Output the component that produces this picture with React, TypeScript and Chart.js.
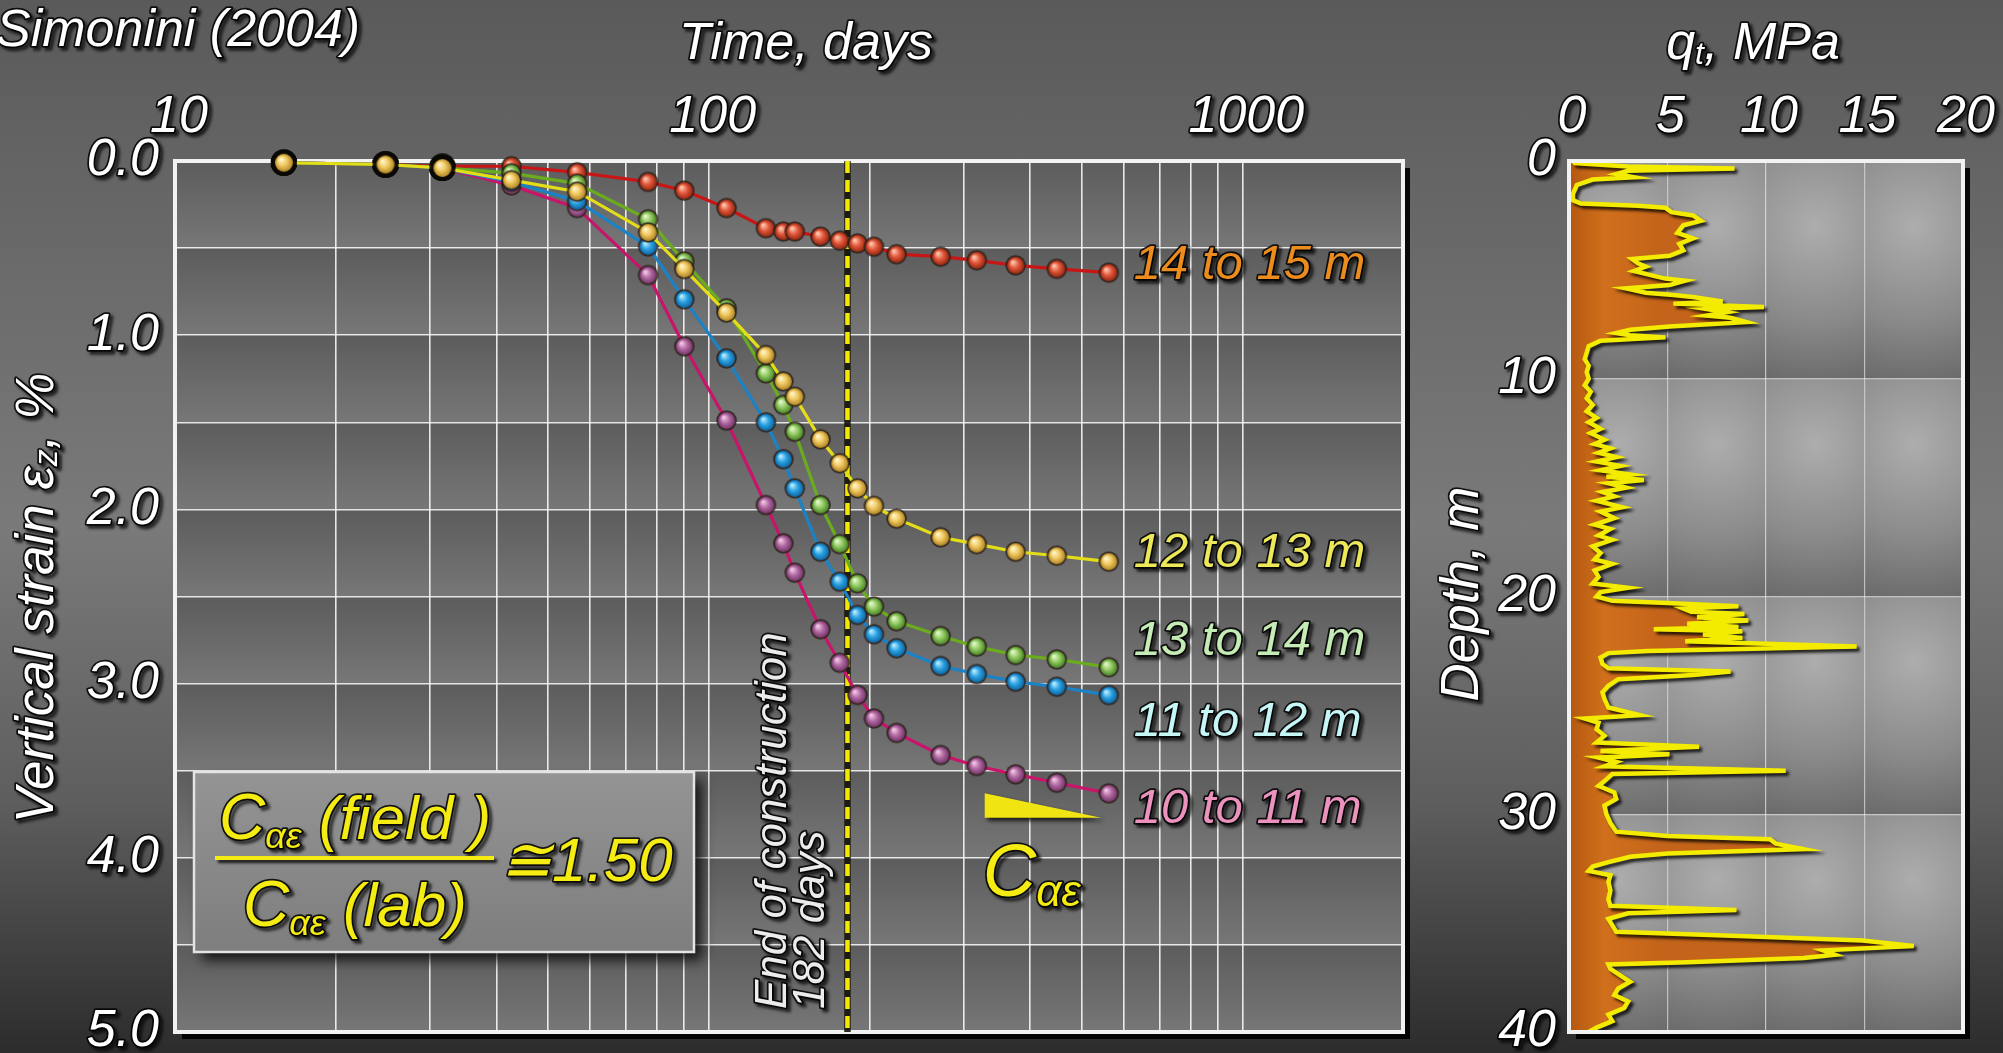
import React, { useEffect, useRef } from "react";
import { Chart, registerables } from "chart.js";
Chart.register(...registerables);

const FONT = '"Liberation Sans", Arial, Helvetica, sans-serif';

// ---------- settlement vs time (Simonini 2004) ----------
const timeDays = [16, 24.8, 31.7, 42.7, 56.7, 77, 90, 108, 128, 138, 145, 162, 176, 190, 204, 225, 272, 318, 376, 449, 562];
const strain14to15 = [0.01, 0.02, 0.03, 0.03, 0.065, 0.12, 0.17, 0.27, 0.386, 0.405, 0.405, 0.434, 0.457, 0.473, 0.492, 0.535, 0.549, 0.57, 0.599, 0.619, 0.641];
const strain12to13 = [0.01, 0.02, 0.04, 0.11, 0.176, 0.41, 0.62, 0.87, 1.114, 1.265, 1.353, 1.598, 1.735, 1.879, 1.98, 2.053, 2.16, 2.199, 2.243, 2.266, 2.3];
const strain13to14 = [0.01, 0.02, 0.04, 0.07, 0.13, 0.335, 0.576, 0.846, 1.219, 1.4, 1.554, 1.975, 2.199, 2.424, 2.558, 2.642, 2.727, 2.788, 2.836, 2.861, 2.906];
const strain11to12 = [0.01, 0.02, 0.04, 0.12, 0.23, 0.49, 0.794, 1.133, 1.5, 1.712, 1.879, 2.243, 2.415, 2.606, 2.717, 2.797, 2.899, 2.945, 2.989, 3.018, 3.066];
const strain10to11 = [0.01, 0.02, 0.04, 0.14, 0.27, 0.655, 1.064, 1.49, 1.975, 2.195, 2.363, 2.688, 2.88, 3.065, 3.2, 3.283, 3.41, 3.473, 3.521, 3.569, 3.63];
const layerLabels = ["14 to 15 m", "12 to 13 m", "13 to 14 m", "11 to 12 m", "10 to 11 m"];
const layerLabelStrain = [0.6, 2.25, 2.76, 3.22, 3.72];
const timeTickLabels = [10, 100, 1000];
const strainTickLabels = [0, 1, 2, 3, 4, 5];
const endOfConstructionDay = 182;
const slopeTimes = [329, 329, 544];
const slopeStrains = [3.63, 3.77, 3.77];

// ---------- CPT profile ----------
const cptDepth = [
  0.0, 0.1, 0.25, 0.35, 0.45, 0.6, 0.75, 0.85, 1.1, 1.5, 1.8, 1.95, 2.05, 2.15, 2.35, 2.5, 2.75, 2.95, 3.3, 3.55,
  3.8, 4.1, 4.35, 4.5, 4.7, 4.85, 5.05, 5.25, 5.4, 5.5, 5.7, 5.85, 6.05, 6.15, 6.25, 6.45, 6.55, 6.7, 6.8, 6.95,
  7.1, 7.2, 7.4, 7.6, 7.75, 7.9, 8.0, 8.1, 8.25, 8.5, 8.8, 9.1, 9.4, 9.7, 10.0, 10.3, 10.6, 10.9, 11.2, 11.5,
  11.8, 12.0, 12.3, 12.5, 12.8, 13.0, 13.2, 13.4, 13.6, 13.8, 14.0, 14.2, 14.4, 14.5, 14.65, 14.8, 15.0, 15.2, 15.4, 15.6,
  15.9, 16.1, 16.4, 16.7, 16.9, 17.2, 17.4, 17.7, 18.0, 18.3, 18.5, 18.8, 19.1, 19.4, 19.6, 19.8, 20.0, 20.2, 20.3, 20.45,
  20.55, 20.7, 20.8, 20.95, 21.1, 21.25, 21.4, 21.5, 21.6, 21.75, 21.9, 22.05, 22.3, 22.5, 22.6, 22.8, 23.1, 23.3, 23.45, 23.6,
  23.8, 24.1, 24.4, 24.7, 25.1, 25.45, 25.6, 25.8, 26.1, 26.4, 26.7, 26.9, 27.1, 27.25, 27.4, 27.6, 27.8, 28.0, 28.15, 28.4,
  28.7, 29.0, 29.3, 29.6, 30.0, 30.4, 30.8, 31.0, 31.15, 31.35, 31.6, 31.8, 31.95, 32.2, 32.4, 32.6, 32.8, 33.1, 33.5, 33.9,
  34.2, 34.4, 34.55, 34.8, 35.1, 35.4, 35.6, 35.8, 36.05, 36.25, 36.45, 36.6, 36.8, 36.9, 37.1, 37.4, 37.7, 38.0, 38.3, 38.6,
  38.9, 39.2, 39.5, 39.8, 40.0,
];
const cptQt = [
  0.2, 0.3, 3.0, 8.4, 3.0, 2.4, 3.3, 1.2, 0.4, 0.2, 0.2, 0.6, 3.5, 4.9, 5.2, 6.3, 6.7, 5.8, 5.5, 6.3,
  5.6, 5.8, 5.1, 3.2, 3.5, 3.9, 3.3, 4.2, 4.9, 5.9, 5.1, 2.9, 3.9, 5.3, 6.3, 7.8, 5.3, 9.9, 7.0, 8.0,
  7.0, 8.2, 9.0, 5.1, 3.1, 2.4, 3.1, 4.9, 1.6, 1.0, 0.9, 0.8, 1.0, 0.9, 1.0, 0.8, 1.1, 0.9, 1.2, 0.9,
  1.4, 1.0, 1.6, 1.1, 1.8, 1.3, 2.1, 1.5, 2.4, 1.4, 2.6, 1.6, 3.1, 1.9, 3.8, 2.0, 2.9, 1.7, 2.3, 1.4,
  2.7, 1.6, 2.3, 1.3, 2.1, 1.5, 2.2, 1.2, 1.6, 1.3, 2.2, 1.3, 1.5, 1.2, 3.0, 1.6, 1.4, 2.2, 5.0, 8.6,
  5.8, 6.2, 8.9, 6.5, 9.1, 6.0, 8.6, 4.3, 8.8, 6.8, 8.8, 5.9, 14.6, 4.0, 2.0, 1.6, 1.7, 2.0, 8.2, 6.3,
  2.5, 2.0, 1.7, 1.8, 2.0, 3.6, 0.8, 1.5, 1.4, 1.8, 1.4, 6.6, 1.6, 5.1, 1.5, 2.4, 1.8, 11.0, 2.2, 1.9,
  1.5, 2.3, 2.4, 1.8, 1.9, 2.1, 2.4, 5.0, 10.2, 10.5, 11.9, 5.0, 3.1, 2.0, 1.2, 1.0, 2.1, 2.0, 2.1, 2.0,
  2.1, 8.5, 3.0, 2.0, 2.2, 2.4, 9.0, 14.9, 17.5, 12.9, 13.5, 11.9, 6.0, 2.0, 2.1, 2.6, 3.1, 2.5, 2.3, 3.0,
  2.8, 2.0, 2.2, 1.4, 1.0,
];
const qtTickLabels = [0, 5, 10, 15, 20];
const depthTickLabels = [0, 10, 20, 30, 40];

// ---------- styles ----------
const YELLOW = "#f4ec12";
const SERIES = [
  { data: strain14to15, line: "#c81616", base: "#e2583c", light: "#ffc8b0", dark: "#962812", text: "#ec8c1e", order: 4 },
  { data: strain12to13, line: "#e4de18", base: "#f0c860", light: "#fff6cc", dark: "#b08626", text: "#ece85a", order: 0 },
  { data: strain13to14, line: "#6aac1e", base: "#92ca62", light: "#e6f8cc", dark: "#4a8628", text: "#c6ecb6", order: 1 },
  { data: strain11to12, line: "#1c82c6", base: "#2ca2e2", light: "#bcecff", dark: "#0e66a4", text: "#c6f6f6", order: 2 },
  { data: strain10to11, line: "#c8146a", base: "#b26aa2", light: "#f2c8e6", dark: "#74366a", text: "#ec92be", order: 3 },
];

function sphere(base: string, light: string, dark: string, r: number, ring: boolean) {
  const pad = ring ? 4 : 1.8;
  const size = Math.ceil((r + pad) * 2) + 2;
  const c = document.createElement("canvas");
  c.width = size;
  c.height = size;
  const g = c.getContext("2d")!;
  const cx = size / 2;
  g.beginPath();
  g.arc(cx, cx, r + pad, 0, Math.PI * 2);
  g.fillStyle = ring ? "rgba(12,10,6,0.95)" : "rgba(45,32,25,0.85)";
  g.fill();
  const grad = g.createRadialGradient(cx - r * 0.35, cx - r * 0.4, r * 0.08, cx, cx, r);
  grad.addColorStop(0, light);
  grad.addColorStop(0.5, base);
  grad.addColorStop(1, dark);
  g.beginPath();
  g.arc(cx, cx, r, 0, Math.PI * 2);
  g.fillStyle = grad;
  g.fill();
  return c;
}

function drawText(
  ctx: CanvasRenderingContext2D, text: string, x: number, y: number, size: number, color: string,
  align: CanvasTextAlign = "left", baseline: CanvasTextBaseline = "alphabetic"
) {
  ctx.save();
  ctx.font = `italic ${size}px ${FONT}`;
  ctx.textAlign = align;
  ctx.textBaseline = baseline;
  ctx.shadowColor = "rgba(0,0,0,0.85)";
  ctx.shadowOffsetX = 3;
  ctx.shadowOffsetY = 3;
  ctx.shadowBlur = 3;
  ctx.lineJoin = "round";
  ctx.strokeStyle = "rgba(0,0,0,0.85)";
  ctx.lineWidth = 3.5;
  ctx.strokeText(text, x, y);
  ctx.shadowColor = "transparent";
  ctx.fillStyle = color;
  ctx.fillText(text, x, y);
  ctx.restore();
}

type Run = { t: string; size: number; dy?: number };
function drawRuns(
  ctx: CanvasRenderingContext2D, runs: Run[], x: number, y: number, align: "left" | "center" | "right",
  color: string, baseline: CanvasTextBaseline = "alphabetic"
) {
  let total = 0;
  const widths = runs.map((r) => {
    ctx.font = `italic ${r.size}px ${FONT}`;
    const w = ctx.measureText(r.t).width;
    total += w;
    return w;
  });
  let cx = align === "left" ? x : align === "center" ? x - total / 2 : x - total;
  runs.forEach((r, i) => {
    drawText(ctx, r.t, cx, y + (r.dy || 0), r.size, color, "left", baseline);
    cx += widths[i];
  });
}

const timeGrid: number[] = [];
[10, 100, 1000].forEach((d) => {
  for (let m = 1; m <= 9; m++) if (d * m <= 2000) timeGrid.push(d * m);
});

function buildMainChart(canvas: HTMLCanvasElement) {
  const plugin = {
    id: "mainDecor",
    beforeDraw(chart: any) {
      const { ctx, chartArea: a, scales } = chart;
      const y = scales.y;
      ctx.save();
      ctx.fillStyle = "rgba(0,0,0,0.92)";
      ctx.fillRect(a.left + 7, a.top + 7, a.right - a.left, a.bottom - a.top);
      for (let v = 0; v < 5; v += 0.5) {
        const y0 = y.getPixelForValue(v);
        const y1 = y.getPixelForValue(v + 0.5);
        const g = ctx.createLinearGradient(0, y0, 0, y1);
        g.addColorStop(0, "#5c5c5c");
        g.addColorStop(1, "#777777");
        ctx.fillStyle = g;
        ctx.fillRect(a.left, y0, a.right - a.left, y1 - y0);
      }
      ctx.restore();
    },
    beforeDatasetsDraw(chart: any) {
      const { ctx, chartArea: a, scales } = chart;
      const x = scales.x;
      ctx.save();
      ctx.strokeStyle = "#f2f2f2";
      ctx.lineWidth = 4;
      ctx.strokeRect(a.left, a.top, a.right - a.left, a.bottom - a.top);
      const px = x.getPixelForValue(endOfConstructionDay);
      ctx.beginPath();
      ctx.moveTo(px, a.top);
      ctx.lineTo(px, a.bottom);
      ctx.strokeStyle = "rgba(20,20,10,0.9)";
      ctx.lineWidth = 6.5;
      ctx.stroke();
      ctx.setLineDash([12, 7]);
      ctx.strokeStyle = "#f4e800";
      ctx.lineWidth = 4.5;
      ctx.stroke();
      ctx.restore();
      const lines = ["End of construction", "182 days"];
      const offs = [-74, -36];
      lines.forEach((t, i) => {
        ctx.save();
        ctx.translate(px + offs[i], a.bottom - 23);
        ctx.rotate(-Math.PI / 2);
        drawText(ctx, t, 0, 0, 44, "#ececec", "left", "middle");
        ctx.restore();
      });
    },
    afterDraw(chart: any) {
      const { ctx, chartArea: a, scales } = chart;
      const x = scales.x;
      const y = scales.y;
      strainTickLabels.forEach((v) =>
        drawText(ctx, v.toFixed(1), a.left - 16, y.getPixelForValue(v), 52, "#ffffff", "right", "middle")
      );
      timeTickLabels.forEach((v) =>
        drawText(ctx, String(v), x.getPixelForValue(v) + 4, 118, 52, "#ffffff", "center", "middle")
      );
      drawText(ctx, "Time, days", 806, 45, 52, "#ffffff", "center", "middle");
      drawText(ctx, "Simonini (2004)", -4, 32, 52, "#ffffff", "left", "middle");
      ctx.save();
      ctx.translate(38, 598);
      ctx.rotate(-Math.PI / 2);
      drawRuns(ctx, [{ t: "Vertical strain ε", size: 53 }, { t: "z", size: 34, dy: 10 }, { t: ", %", size: 53 }], 0, 0, "center", "#ffffff", "middle");
      ctx.restore();

      const lastX = x.getPixelForValue(timeDays[timeDays.length - 1]);
      SERIES.forEach((s, i) =>
        drawText(ctx, layerLabels[i], lastX + 25, y.getPixelForValue(layerLabelStrain[i]), 49, s.text, "left", "middle")
      );

      // ratio box
      const bx = a.left + 19;
      const by = a.bottom - 260;
      const bw = 500;
      const bh = 180;
      ctx.save();
      ctx.shadowColor = "rgba(0,0,0,0.8)";
      ctx.shadowOffsetX = 8;
      ctx.shadowOffsetY = 8;
      ctx.shadowBlur = 12;
      const bg = ctx.createLinearGradient(0, by, 0, by + bh);
      bg.addColorStop(0, "#949494");
      bg.addColorStop(1, "#7e7e7e");
      ctx.fillStyle = bg;
      ctx.fillRect(bx, by, bw, bh);
      ctx.restore();
      ctx.save();
      ctx.strokeStyle = "#e4e4e4";
      ctx.lineWidth = 2.5;
      ctx.strokeRect(bx, by, bw, bh);
      ctx.restore();
      const fc = bx + 161;
      drawRuns(ctx, [{ t: "C", size: 64 }, { t: "αε", size: 36, dy: 9 }, { t: " (field )", size: 62 }], fc, by + 67, "center", YELLOW);
      ctx.save();
      ctx.shadowColor = "rgba(0,0,0,0.85)";
      ctx.shadowOffsetX = 3;
      ctx.shadowOffsetY = 3;
      ctx.shadowBlur = 3;
      ctx.fillStyle = YELLOW;
      ctx.fillRect(bx + 21, by + 84, 279, 4);
      ctx.restore();
      drawRuns(ctx, [{ t: "C", size: 64 }, { t: "αε", size: 36, dy: 9 }, { t: " (lab)", size: 62 }], fc, by + 154, "center", YELLOW);
      drawText(ctx, "≅1.50", bx + 306, by + 109, 62, YELLOW, "left", "alphabetic");

      // C_alpha_epsilon slope triangle
      const pts = slopeTimes.map((t, i) => [x.getPixelForValue(t), y.getPixelForValue(slopeStrains[i])]);
      ctx.save();
      ctx.shadowColor = "rgba(0,0,0,0.8)";
      ctx.shadowOffsetX = 3;
      ctx.shadowOffsetY = 3;
      ctx.shadowBlur = 4;
      ctx.beginPath();
      ctx.moveTo(pts[0][0], pts[0][1]);
      ctx.lineTo(pts[1][0], pts[1][1]);
      ctx.lineTo(pts[2][0], pts[2][1]);
      ctx.closePath();
      ctx.fillStyle = "#f0e412";
      ctx.fill();
      ctx.restore();
      drawRuns(ctx, [{ t: "C", size: 74 }, { t: "αε", size: 44, dy: 10 }], pts[1][0] - 2, pts[1][1] + 78, "left", YELLOW);
    },
  };

  const datasets = SERIES.map((s) => {
    const img = sphere(s.base, s.light, s.dark, 8.5, false);
    const ringImg = sphere(s.base, s.light, s.dark, 9, true);
    return {
      data: timeDays.map((t, i) => ({ x: t, y: s.data[i] })),
      showLine: true,
      borderColor: s.line,
      borderWidth: 3.2,
      backgroundColor: s.base,
      tension: 0,
      order: s.order,
      clip: false as any,
      pointRadius: 9,
      pointStyle: (c: any) => (c.dataIndex < 3 ? ringImg : img),
    };
  });

  return new Chart(canvas, {
    type: "scatter",
    data: { datasets: datasets as any },
    options: {
      responsive: false,
      animation: false,
      devicePixelRatio: 1,
      layout: { padding: { left: 175, top: 161, right: 17, bottom: 21 } },
      plugins: { legend: { display: false }, tooltip: { enabled: false } },
      events: [],
      scales: {
        x: {
          type: "logarithmic",
          position: "top",
          min: 10,
          max: 2000,
          afterBuildTicks: (s: any) => {
            s.ticks = timeGrid.map((v) => ({ value: v }));
          },
          afterFit: (s: any) => {
            s.height = 0;
          },
          ticks: { display: false },
          grid: { color: "rgba(255,255,255,0.85)", lineWidth: 1.6, drawTicks: false },
          border: { display: false },
        },
        y: {
          type: "linear",
          min: 0,
          max: 5,
          reverse: true,
          afterFit: (s: any) => {
            s.width = 0;
          },
          ticks: { display: false, stepSize: 0.5 },
          grid: { color: "rgba(255,255,255,0.85)", lineWidth: 1.6, drawTicks: false },
          border: { display: false },
        },
      } as any,
    },
    plugins: [plugin],
  });
}

function buildCptChart(canvas: HTMLCanvasElement) {
  const plugin = {
    id: "cptDecor",
    beforeDraw(chart: any) {
      const { ctx, chartArea: a, scales } = chart;
      const x = scales.x;
      const y = scales.y;
      ctx.save();
      ctx.fillStyle = "rgba(0,0,0,0.92)";
      ctx.fillRect(a.left + 7, a.top + 7, a.right - a.left, a.bottom - a.top);
      for (let q = 0; q < 20; q += 5) {
        for (let d = 0; d < 40; d += 10) {
          const x0 = x.getPixelForValue(q);
          const x1 = x.getPixelForValue(q + 5);
          const y0 = y.getPixelForValue(d);
          const y1 = y.getPixelForValue(d + 10);
          const h = y1 - y0;
          const g = ctx.createRadialGradient((x0 + x1) / 2, y0 + h * 0.3, 0, (x0 + x1) / 2, y0 + h * 0.3, h * 0.85);
          g.addColorStop(0, "#adadad");
          g.addColorStop(0.5, "#8b8b8b");
          g.addColorStop(1, "#5e5e5e");
          ctx.fillStyle = g;
          ctx.fillRect(x0, y0, x1 - x0, h);
        }
      }
      ctx.restore();
    },
    beforeDatasetDraw(chart: any) {
      const ctx = chart.ctx;
      ctx.save();
      ctx.shadowColor = "rgba(0,0,0,0.8)";
      ctx.shadowOffsetX = 3;
      ctx.shadowOffsetY = 3;
      ctx.shadowBlur = 3;
    },
    afterDatasetDraw(chart: any) {
      chart.ctx.restore();
    },
    afterDraw(chart: any) {
      const { ctx, chartArea: a, scales } = chart;
      const x = scales.x;
      const y = scales.y;
      ctx.save();
      ctx.strokeStyle = "#f2f2f2";
      ctx.lineWidth = 4;
      ctx.strokeRect(a.left, a.top, a.right - a.left, a.bottom - a.top);
      ctx.restore();
      qtTickLabels.forEach((v) => drawText(ctx, String(v), x.getPixelForValue(v) + 3, 118, 52, "#ffffff", "center", "middle"));
      depthTickLabels.forEach((v) => drawText(ctx, String(v), a.left - 13, y.getPixelForValue(v), 52, "#ffffff", "right", "middle"));
      drawRuns(ctx, [{ t: "q", size: 52 }, { t: "t", size: 32, dy: 10 }, { t: ", MPa", size: 52 }], 333, 45, "center", "#ffffff", "middle");
      ctx.save();
      ctx.translate(43, 594);
      ctx.rotate(-Math.PI / 2);
      drawText(ctx, "Depth, m", 0, 0, 53, "#ffffff", "center", "middle");
      ctx.restore();
    },
  };

  return new Chart(canvas, {
    type: "line",
    data: {
      datasets: [
        {
          data: cptDepth.map((d, i) => ({ x: cptQt[i], y: d })),
          borderColor: "#f4ec00",
          borderWidth: 4.5,
          fill: "origin",
          backgroundColor: (c: any) => {
            const a = c.chart.chartArea;
            if (!a) return "#c8661a";
            const g = c.chart.ctx.createLinearGradient(a.left, 0, a.left + 90, 0);
            g.addColorStop(0, "#b45810");
            g.addColorStop(0.4, "#d0701c");
            g.addColorStop(1, "#c4641a");
            return g;
          },
          pointRadius: 0,
          tension: 0,
        } as any,
      ],
    },
    options: {
      indexAxis: "y",
      responsive: false,
      animation: false,
      devicePixelRatio: 1,
      events: [],
      layout: { padding: { left: 149, top: 161, right: 40, bottom: 21 } },
      plugins: { legend: { display: false }, tooltip: { enabled: false } },
      scales: {
        x: {
          type: "linear",
          position: "top",
          min: 0,
          max: 20,
          afterFit: (s: any) => {
            s.height = 0;
          },
          ticks: { display: false, stepSize: 5 },
          grid: { color: "rgba(235,235,235,0.7)", lineWidth: 1.2, drawTicks: false },
          border: { display: false },
        },
        y: {
          type: "linear",
          min: 0,
          max: 40,
          reverse: true,
          afterFit: (s: any) => {
            s.width = 0;
          },
          ticks: { display: false, stepSize: 10 },
          grid: { color: "rgba(235,235,235,0.7)", lineWidth: 1.2, drawTicks: false },
          border: { display: false },
        },
      } as any,
    },
    plugins: [plugin],
  });
}

export default function App() {
  const mainRef = useRef<HTMLCanvasElement>(null);
  const cptRef = useRef<HTMLCanvasElement>(null);
  useEffect(() => {
    const c1 = buildMainChart(mainRef.current!);
    const c2 = buildCptChart(cptRef.current!);
    return () => {
      c1.destroy();
      c2.destroy();
    };
  }, []);
  return (
    <div
      style={{
        position: "absolute",
        left: 0,
        top: 0,
        width: 2003,
        height: 1053,
        overflow: "hidden",
        background: "linear-gradient(180deg, #5a5a5a 0%, #6c6c6c 28%, #7a7a7a 50%, #5e5e5e 76%, #2c2c2c 100%)",
      }}
    >
      <canvas ref={mainRef} width={1420} height={1053} style={{ position: "absolute", left: 0, top: 0, width: 1420, height: 1053 }} />
      <canvas ref={cptRef} width={583} height={1053} style={{ position: "absolute", left: 1420, top: 0, width: 583, height: 1053 }} />
    </div>
  );
}
